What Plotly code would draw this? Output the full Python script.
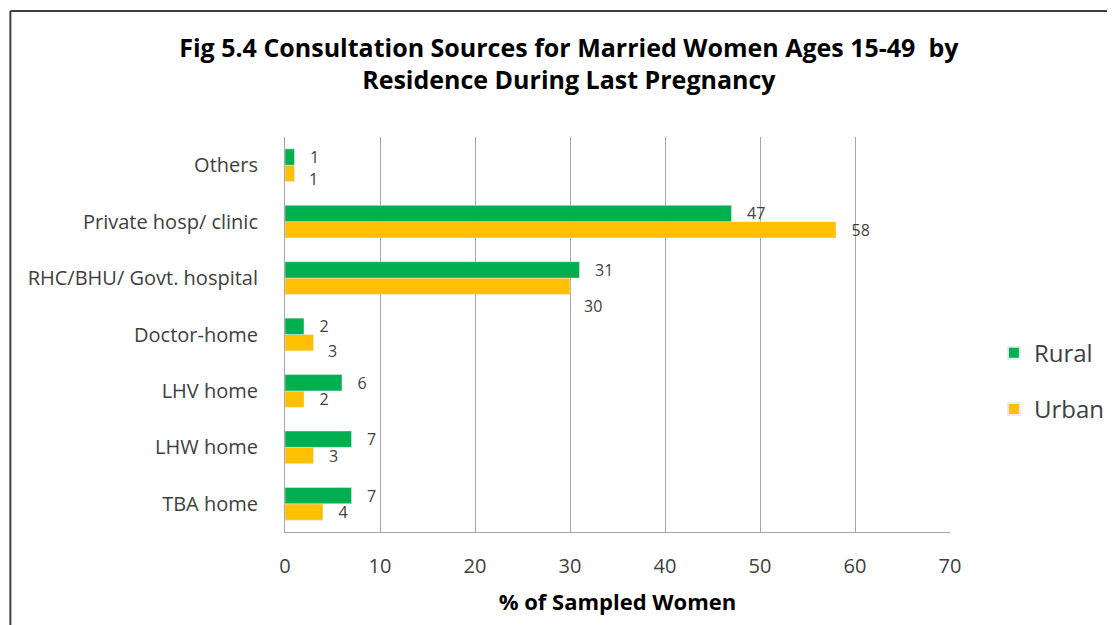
import plotly.graph_objects as go

categories = ["TBA home", "LHW home", "LHV home", "Doctor-home",
              "RHC/BHU/ Govt. hospital", "Private hosp/ clinic", "Others"]
rural = [7, 7, 6, 2, 31, 47, 1]
urban = [4, 3, 2, 3, 30, 58, 1]
x_ticks = [0, 10, 20, 30, 40, 50, 60, 70]

GREEN = "#00B050"
GOLD = "#FFC000"
TXT = "#404040"
FONT = "Open Sans, sans-serif"

pad = "\u00a0\u00a0\u00a0"

# a few urban labels sit lower than their bar, as in the source
# (pixel shift from the category centre)
shifted = {4: -28, 3: -16, 6: -14}
urban_text = [pad + str(v) if i not in shifted else "" for i, v in enumerate(urban)]

fig = go.Figure()
# urban first so rural sits on top within each group
fig.add_trace(go.Bar(
    y=categories, x=urban, name="Urban", orientation="h",
    marker=dict(color=GOLD), legendgroup="u", legendrank=2,
    text=urban_text, textposition="outside",
    constraintext="none",
    textfont=dict(size=16, color=TXT, family=FONT),
    cliponaxis=False,
))
fig.add_trace(go.Bar(
    y=categories, x=rural, name="Rural", orientation="h",
    marker=dict(color=GREEN), legendgroup="r", legendrank=1,
    text=[pad + str(v) for v in rural], textposition="outside",
    constraintext="none",
    textfont=dict(size=16, color=TXT, family=FONT),
    cliponaxis=False,
))

for i, dy in shifted.items():
    fig.add_annotation(
        x=urban[i], y=categories[i], text=str(urban[i]),
        xanchor="left", yanchor="middle", xshift=12, yshift=dy,
        showarrow=False, font=dict(size=16, color=TXT, family=FONT),
    )

# page body adds an 8px offset, margins compensate for it
fig.update_layout(
    width=1115, height=625,
    margin=dict(l=277, r=173, t=129, b=101, autoexpand=False),
    paper_bgcolor="white", plot_bgcolor="white",
    barmode="group", bargap=0.42, bargroupgap=0,
    title=dict(
        text="<b>Fig 5.4 Consultation Sources for Married Women Ages 15-49  by<br>Residence During Last Pregnancy</b>",
        x=0.503, xanchor="center", y=0.922, yanchor="middle",
        font=dict(family=FONT, size=25, color="#000000"),
    ),
    legend=dict(
        x=1.066, y=0.382, xanchor="left", yanchor="middle",
        traceorder="grouped",
        font=dict(family=FONT, size=24, color=TXT),
        itemsizing="constant", tracegroupgap=22,
    ),
    showlegend=True,
)

fig.update_xaxes(
    range=[0, 70], tickvals=x_ticks, ticktext=[str(t) for t in x_ticks],
    showgrid=True, gridcolor="#A6A6A6", gridwidth=1,
    showline=True, linecolor="#A6A6A6", linewidth=1,
    ticks="", zeroline=False,
    tickfont=dict(family=FONT, size=20, color=TXT),
    ticklabelstandoff=16,
    title=dict(text="<b>% of Sampled Women</b>",
               font=dict(family=FONT, size=22, color="#000000"),
               standoff=16),
)
fig.update_yaxes(
    showline=True, linecolor="#A6A6A6", linewidth=1,
    showgrid=False, ticks="",
    tickfont=dict(family=FONT, size=20, color=TXT),
    ticklabelstandoff=22,
)

# outer chart frame (top and left edges visible)
fig.add_shape(type="line", xref="paper", yref="paper",
              x0=-0.413, x1=1.3, y0=1.319, y1=1.319,
              line=dict(color="#404040", width=2))
fig.add_shape(type="line", xref="paper", yref="paper",
              x0=-0.413, x1=-0.413, y0=1.319, y1=-0.3,
              line=dict(color="#404040", width=2))

fig.write_html("out.html")
